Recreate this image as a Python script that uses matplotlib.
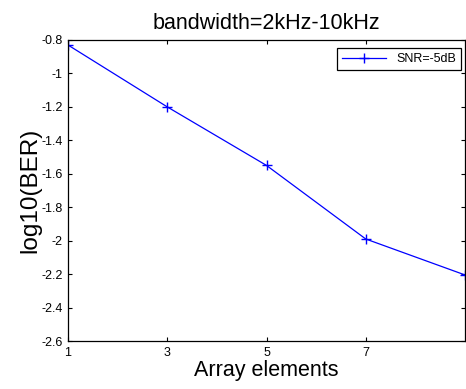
import matplotlib
matplotlib.use('Agg')
import matplotlib.pyplot as plt

plt.rcParams['font.family'] = ['Liberation Sans', 'DejaVu Sans']

elements = [1, 3, 5, 7, 9]
log_ber = [-0.83, -1.20, -1.55, -1.99, -2.205]
xticks = [1, 3, 5, 7]
yticks = [-2.6, -2.4, -2.2, -2.0, -1.8, -1.6, -1.4, -1.2, -1.0, -0.8]
ytick_labels = ['-2.6', '-2.4', '-2.2', '-2', '-1.8', '-1.6', '-1.4', '-1.2', '-1', '-0.8']

fig = plt.figure(figsize=(4.66, 3.89), dpi=100)
ax = fig.add_axes([68/466, 1 - 341/389, 397/466, (341 - 40)/389])

ax.plot(elements, log_ber, color='blue', marker='+', markersize=7, linewidth=0.9, label='SNR=-5dB')

ax.set_xlim(1, 9)
ax.set_ylim(-2.6, -0.8)
ax.set_xticks(xticks)
ax.set_xticklabels([str(t) for t in xticks])
ax.set_yticks(yticks)
ax.set_yticklabels(ytick_labels)
ax.tick_params(direction='in', top=True, right=True, labelsize=9, length=3, width=0.8, pad=4)
for s in ax.spines.values():
    s.set_linewidth(0.9)

ax.set_title('bandwidth=2kHz-10kHz', fontsize=15.5, pad=8)
ax.set_xlabel('Array elements', fontsize=15.5, labelpad=1)
ax.set_ylabel('log10(BER)', fontsize=17.5, labelpad=0)

leg = ax.legend(loc='upper right', bbox_to_anchor=(1 - 4/397, 1 - 8/301), fontsize=9,
                fancybox=False, framealpha=1, edgecolor='black', borderaxespad=0,
                handlelength=3.5)
leg.get_frame().set_linewidth(0.9)

fig.savefig('out.png', dpi=100)
